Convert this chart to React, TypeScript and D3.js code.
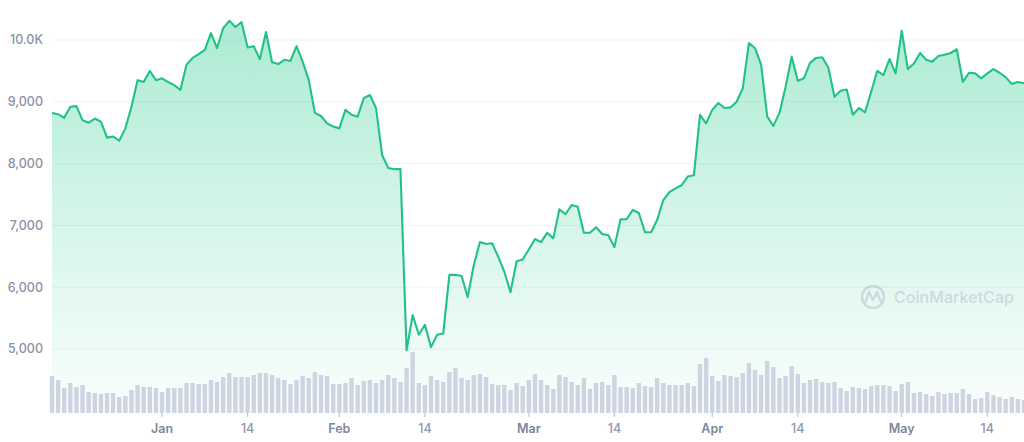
import * as d3 from "d3";

// daily close (USD)
const prices = [
  8820, 8800, 8740, 8920, 8930, 8700, 8660, 8730, 8680, 8420, 8440, 8370, 8570, 8920, 9350, 9320,
  9500, 9350, 9380, 9320, 9270, 9190, 9600, 9710, 9770, 9840, 10110, 9870, 10190, 10310, 10210, 10290,
  9880, 9900, 9690, 10130, 9640, 9610, 9680, 9660, 9900, 9650, 9350, 8820, 8770, 8650, 8600, 8570,
  8870, 8790, 8760, 9060, 9110, 8900, 8140, 7930, 7910, 7910, 4980,
  5550, 5230, 5390, 5030, 5230, 5250, 6200, 6200, 6180, 5840, 6360, 6730, 6700, 6710, 6490, 6250,
  5920, 6420, 6450, 6610, 6780, 6730, 6880, 6790, 7260, 7180, 7330, 7300, 6880, 6880, 6970, 6860,
  6840, 6650, 7100, 7100, 7250, 7200, 6890, 6890, 7090, 7410, 7540, 7600, 7650, 7790, 7810, 8790,
  8650, 8870, 8980, 8900, 8910, 9000, 9220, 9950, 9870, 9600, 8760, 8610, 8820, 9240, 9730, 9340,
  9380, 9630, 9710, 9720, 9550, 9080, 9180, 9200, 8790, 8900, 8830, 9160, 9500, 9430, 9690, 9460,
  10150, 9530, 9620, 9790, 9680, 9650, 9740, 9760, 9790, 9850, 9320, 9470, 9460, 9380, 9460, 9530,
  9470, 9400, 9290, 9320, 9300,
];

// daily volume (B USD), same days
const volumes = [
  37, 33, 25, 30, 26, 28, 21, 20, 19, 20, 20, 16, 17, 23, 28, 26, 26, 25, 21, 25, 25, 25, 30, 30,
  29, 29, 33, 31, 36, 40, 36, 36, 36, 38, 40, 40, 38, 35, 33, 29, 33, 37, 35, 41, 38, 37, 29, 29,
  30, 35, 28, 32, 33, 30, 33, 38, 35, 31, 45, 61, 30, 28, 37, 33, 31, 41, 45, 35, 33, 38, 39, 36,
  29, 28, 28, 23, 30, 27, 33, 39, 33, 28, 24, 38, 36, 31, 28, 35, 24, 30, 31, 28, 38, 26, 26, 25,
  30, 27, 26, 35, 30, 28,
  28, 28, 30, 27, 49, 55, 37, 32, 38, 37, 36, 40, 50, 43, 38, 52, 46, 35, 37, 47, 39, 30, 33, 34,
  31, 30, 31, 25, 22, 26, 25, 24, 27, 28, 28, 27, 22, 29, 31, 20, 21, 19, 17, 21, 19, 20, 20, 24,
  19, 14, 15, 21, 18, 16, 14, 16, 14, 13,
];

const priceTicks = [5000, 6000, 7000, 8000, 9000, 10000];
const priceTickLabels = ["5,000", "6,000", "7,000", "8,000", "9,000", "10.0K"];

// day index of each date label
const dateTicks = [18, 32, 47, 61, 78, 92, 108, 122, 139, 153];
const dateTickLabels = ["Jan", "14", "Feb", "14", "Mar", "14", "Apr", "14", "May", "14"];

const W = 1024;
const H = 442;
const left = 52;
const bottom = 413;
const green = "#16c784";

export default function App() {
  const x = d3.scaleLinear().domain([0, prices.length - 1]).range([left, W]);
  const y = d3.scaleLinear().domain([5000, 10000]).range([349, 40]);
  const yVol = d3.scaleLinear().domain([0, 61]).range([bottom, bottom - 61]);
  const step = x(1) - x(0);

  const line = d3
    .line<number>()
    .x((_, i) => x(i))
    .y((d) => y(d));
  const area = d3
    .area<number>()
    .x((_, i) => x(i))
    .y0(bottom)
    .y1((d) => y(d));

  return (
    <svg
      width={W}
      height={H}
      style={{ position: "absolute", left: 0, top: 0, fontFamily: "Inter, 'Noto Sans', sans-serif" }}
    >
      <defs>
        <linearGradient id="fill" x1="0" y1="20" x2="0" y2={bottom} gradientUnits="userSpaceOnUse">
          <stop offset="0" stopColor={green} stopOpacity={0.36} />
          <stop offset="0.5" stopColor={green} stopOpacity={0.18} />
          <stop offset="1" stopColor={green} stopOpacity={0.02} />
        </linearGradient>
      </defs>
      <rect width={W} height={H} fill="#fff" />

      {priceTicks.map((t, i) => (
        <g key={t}>
          <line x1={left} x2={W} y1={y(t)} y2={y(t)} stroke="#eff2f5" strokeWidth={1} />
          <text
            x={43}
            y={y(t)}
            dy="0.35em"
            textAnchor="end"
            fontSize={12.5}
            fontWeight={500}
            fill="#8a92a6"
          >
            {priceTickLabels[i]}
          </text>
        </g>
      ))}

      <path d={area(prices) ?? ""} fill="url(#fill)" />

      {volumes.map((v, i) => (
        <rect
          key={i}
          x={x(i) - step * 0.36}
          y={yVol(v)}
          width={step * 0.72}
          height={bottom - yVol(v)}
          fill="#cfd4e2"
        />
      ))}

      {dateTicks.map((d, i) => (
        <g key={i}>
          <line x1={x(d)} x2={x(d)} y1={bottom} y2={bottom + 4} stroke="#b8bfce" strokeWidth={1} />
          <text
            x={x(d)}
            y={429}
            dy="0.35em"
            textAnchor="middle"
            fontSize={12.5}
            fontWeight={i % 2 === 0 ? 600 : 500}
            fill={i % 2 === 0 ? "#7d869b" : "#8f97aa"}
          >
            {dateTickLabels[i]}
          </text>
        </g>
      ))}

      <path d={line(prices) ?? ""} fill="none" stroke="#22c286" strokeWidth={2.1} strokeLinejoin="round" />

      <g opacity={0.55}>
        <circle cx={873} cy={297} r={11} fill="none" stroke="#b9c1d0" strokeWidth={2.5} />
        <path
          d="M865,303 L869,292 L873,300 L877,292 L881,302"
          fill="none"
          stroke="#b9c1d0"
          strokeWidth={2.2}
          strokeLinejoin="round"
          strokeLinecap="round"
        />
        <text
          x={894}
          y={303}
          fontSize={16}
          fontWeight={500}
          fill="#b9c1d0"
          textLength={120}
          lengthAdjust="spacingAndGlyphs"
        >
          CoinMarketCap
        </text>
      </g>
    </svg>
  );
}
